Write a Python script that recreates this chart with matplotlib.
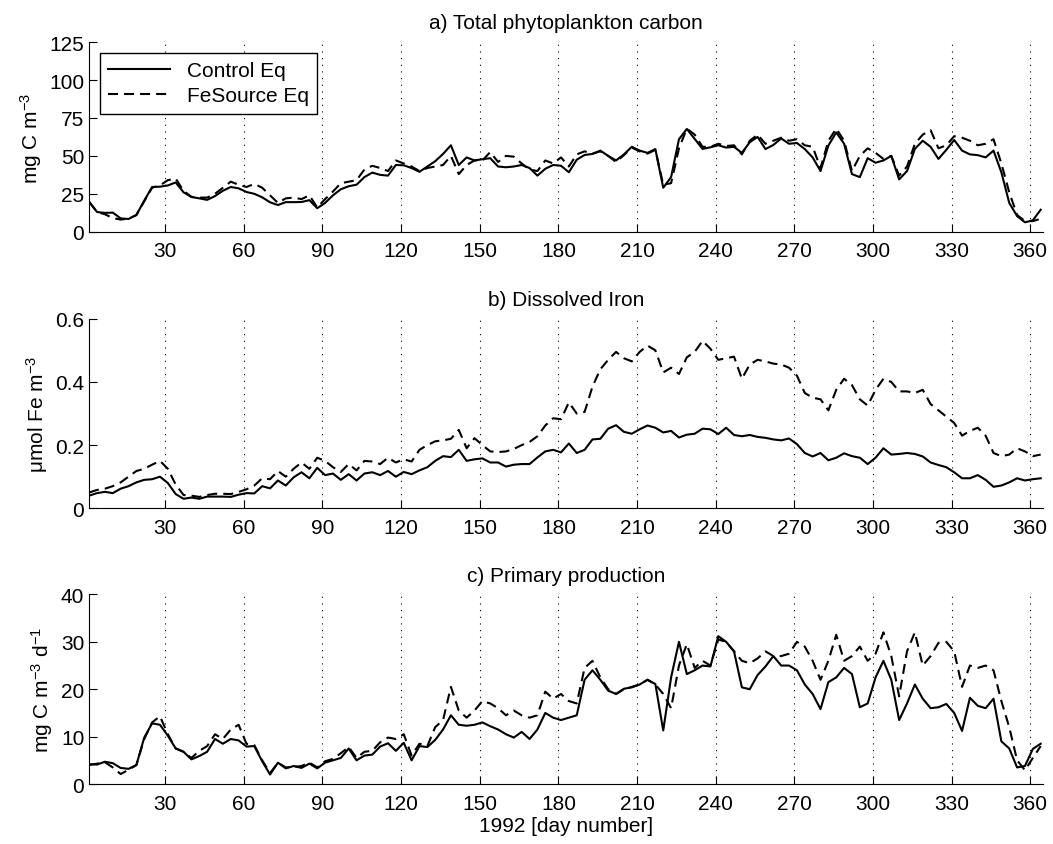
import numpy as np
import matplotlib
matplotlib.use('Agg')
import matplotlib.pyplot as plt

plt.rcParams['font.family'] = ['Liberation Sans', 'DejaVu Sans']
plt.rcParams['mathtext.default'] = 'regular'
plt.rcParams['font.size'] = 15

# day numbers, every third day of 1992
days = np.arange(1, 366, 3)

# a) total phytoplankton carbon, mg C m-3
carbon_control = [
    19.8, 13.0, 12.4, 12.6, 8.8, 8.4, 11.0, 20.5, 29.5, 29.7,
    30.5, 32.5, 26.0, 22.9, 22.0, 21.0, 23.5, 27.0, 29.5, 28.6,
    26.2, 25.0, 22.7, 19.4, 17.6, 19.5, 19.5, 19.6, 20.8, 15.5,
    19.0, 24.0, 28.0, 30.0, 31.0, 36.0, 39.0, 37.5, 37.0, 44.0,
    43.8, 42.0, 39.5, 43.0, 46.5, 51.3, 57.0, 44.0, 49.0, 47.0,
    47.8, 48.5, 43.0, 42.5, 43.0, 44.0, 42.0, 37.0, 41.5, 44.0,
    43.5, 39.2, 47.5, 50.6, 51.3, 53.5, 50.0, 47.0, 51.0, 56.0,
    53.5, 52.0, 54.5, 29.0, 36.0, 61.0, 67.8, 61.2, 54.6, 55.7,
    57.0, 55.5, 56.0, 52.0, 59.0, 62.5, 54.5, 57.2, 61.5, 58.0,
    58.5, 54.5, 49.0, 40.0, 56.8, 65.5, 58.0, 38.0, 36.0, 48.5,
    45.5, 47.0, 50.0, 34.5, 40.0, 54.6, 60.0, 56.0, 48.0, 54.0,
    60.5, 53.5, 51.0, 50.5, 49.0, 53.5, 39.2, 19.0, 10.3, 6.2,
    7.5, 14.5]
carbon_fesource = [
    19.5, 13.0, 11.5, 9.0, 8.0, 8.6, 11.0, 20.0, 29.0, 30.5,
    34.0, 35.0, 27.0, 23.0, 22.5, 22.5, 25.0, 29.0, 33.0, 31.0,
    29.5, 31.5, 29.0, 24.0, 19.0, 22.0, 22.5, 21.5, 24.0, 16.0,
    21.5, 26.5, 32.0, 33.0, 34.0, 41.0, 43.5, 42.0, 40.0, 47.0,
    45.0, 43.0, 40.0, 42.0, 43.0, 44.0, 50.0, 38.0, 44.0, 47.0,
    47.0, 52.5, 46.0, 50.0, 49.5, 45.0, 41.0, 40.0, 47.0, 45.0,
    49.0, 43.0, 51.0, 53.0, 51.5, 53.0, 50.0, 46.0, 50.5, 55.5,
    53.0, 51.5, 54.0, 31.0, 32.0, 55.0, 68.0, 64.0, 56.0, 56.0,
    58.0, 56.5, 57.0, 51.0, 60.0, 64.0, 58.0, 60.0, 62.0, 60.0,
    61.0, 57.0, 56.0, 42.0, 60.0, 68.0, 60.0, 40.0, 50.0, 55.0,
    52.0, 48.0, 50.0, 37.0, 43.0, 58.0, 64.0, 67.0, 55.0, 57.0,
    63.0, 62.0, 60.0, 57.0, 58.0, 61.0, 45.0, 26.0, 11.0, 7.0,
    7.0, 8.5]

# b) dissolved iron, umol Fe m-3
iron_control = [
    0.040, 0.048, 0.052, 0.048, 0.062, 0.070, 0.082, 0.090, 0.092, 0.100,
    0.080, 0.045, 0.030, 0.034, 0.030, 0.037, 0.037, 0.037, 0.036, 0.043,
    0.048, 0.047, 0.070, 0.063, 0.088, 0.072, 0.098, 0.114, 0.095, 0.128,
    0.105, 0.110, 0.090, 0.108, 0.088, 0.110, 0.114, 0.105, 0.118, 0.100,
    0.115, 0.108, 0.120, 0.130, 0.150, 0.165, 0.162, 0.185, 0.150, 0.155,
    0.158, 0.145, 0.145, 0.132, 0.138, 0.140, 0.140, 0.161, 0.180, 0.185,
    0.177, 0.205, 0.175, 0.185, 0.218, 0.220, 0.252, 0.263, 0.242, 0.236,
    0.250, 0.262, 0.255, 0.240, 0.245, 0.224, 0.233, 0.236, 0.252, 0.250,
    0.235, 0.255, 0.232, 0.228, 0.232, 0.226, 0.223, 0.218, 0.215, 0.221,
    0.203, 0.175, 0.164, 0.175, 0.152, 0.160, 0.174, 0.165, 0.160, 0.140,
    0.160, 0.190, 0.170, 0.172, 0.175, 0.172, 0.164, 0.145, 0.137, 0.130,
    0.114, 0.095, 0.095, 0.105, 0.090, 0.068, 0.072, 0.082, 0.095, 0.088,
    0.092, 0.095]
iron_fesource = [
    0.050, 0.058, 0.062, 0.070, 0.082, 0.100, 0.118, 0.125, 0.138, 0.150,
    0.125, 0.075, 0.042, 0.040, 0.036, 0.042, 0.046, 0.046, 0.045, 0.052,
    0.060, 0.072, 0.095, 0.092, 0.118, 0.100, 0.125, 0.145, 0.125, 0.160,
    0.150, 0.130, 0.115, 0.140, 0.120, 0.150, 0.148, 0.140, 0.160, 0.145,
    0.155, 0.148, 0.185, 0.200, 0.212, 0.215, 0.220, 0.248, 0.190, 0.222,
    0.200, 0.180, 0.178, 0.180, 0.188, 0.200, 0.210, 0.228, 0.262, 0.285,
    0.282, 0.335, 0.300, 0.305, 0.385, 0.440, 0.470, 0.495, 0.475, 0.465,
    0.495, 0.515, 0.500, 0.430, 0.445, 0.425, 0.478, 0.495, 0.530, 0.505,
    0.470, 0.475, 0.480, 0.410, 0.455, 0.470, 0.465, 0.458, 0.455, 0.445,
    0.420, 0.365, 0.350, 0.345, 0.310, 0.375, 0.410, 0.390, 0.345, 0.325,
    0.375, 0.410, 0.400, 0.370, 0.370, 0.365, 0.375, 0.330, 0.310, 0.290,
    0.270, 0.230, 0.245, 0.255, 0.230, 0.175, 0.165, 0.170, 0.190, 0.180,
    0.165, 0.170]

# c) primary production, mg C m-3 d-1
pp_control = [
    4.2, 4.1, 4.7, 4.4, 3.4, 3.2, 4.0, 9.8, 12.8, 12.5,
    10.2, 7.5, 6.8, 5.2, 5.9, 6.8, 9.5, 8.5, 9.5, 9.2,
    7.9, 8.0, 4.8, 2.0, 4.5, 3.3, 3.8, 3.4, 4.3, 3.3,
    4.5, 5.0, 5.5, 7.5, 5.0, 6.0, 6.2, 7.9, 8.6, 7.0,
    8.7, 5.0, 8.0, 7.8, 9.3, 11.5, 14.5, 12.5, 12.3, 12.5,
    13.0, 12.2, 11.5, 10.5, 9.8, 11.0, 9.5, 11.5, 15.0, 14.0,
    13.5, 14.0, 14.5, 22.0, 24.0, 22.0, 19.7, 19.0, 20.1, 20.4,
    21.0, 22.0, 21.1, 11.3, 22.5, 30.0, 23.2, 24.0, 25.0, 24.8,
    31.2, 30.0, 28.0, 20.4, 20.0, 23.0, 24.8, 27.0, 25.0, 25.0,
    24.0, 21.0, 19.0, 15.8, 21.5, 22.5, 24.5, 23.2, 16.2, 17.0,
    22.5, 26.0, 22.0, 13.5, 17.0, 21.0, 18.0, 16.0, 16.2, 16.9,
    15.0, 11.2, 18.2, 16.5, 16.0, 18.0, 9.0, 7.5, 3.5, 3.8,
    7.4, 8.5]
pp_fesource = [
    4.0, 4.3, 4.6, 3.5, 2.1, 3.0, 4.0, 9.5, 13.0, 14.3,
    10.5, 7.5, 6.8, 5.5, 7.0, 8.0, 10.5, 9.5, 11.5, 12.5,
    8.5, 8.2, 5.0, 2.3, 4.5, 3.5, 3.6, 3.8, 4.5, 3.5,
    4.8, 5.3, 6.5, 7.8, 5.5, 6.8, 7.0, 8.8, 9.8, 9.5,
    10.5, 6.0, 8.5, 8.0, 12.0, 13.5, 20.5, 15.5, 14.0, 15.5,
    17.5, 17.0, 16.0, 14.5, 15.5, 14.5, 14.0, 14.5, 19.5, 18.0,
    19.0, 17.5, 17.0, 24.5, 26.0, 22.5, 20.0, 19.0, 20.0, 20.5,
    21.0, 22.0, 21.0, 19.0, 16.0, 25.0, 29.5, 24.5, 26.0, 25.0,
    30.5, 30.0, 28.0, 26.0, 25.5, 26.5, 28.0, 27.0, 27.0, 27.5,
    30.0, 29.0, 26.0, 22.0, 26.0, 31.5, 26.0, 27.0, 29.0, 26.0,
    27.5, 32.0, 27.0, 18.5, 28.0, 32.0, 25.0, 27.0, 29.8, 30.0,
    28.0, 20.5, 25.0, 24.5, 25.0, 24.0, 17.5, 12.0, 5.0, 2.9,
    5.5, 8.0]

panels = [
    ('a) Total phytoplankton carbon', r'mg C m$^{-3}$', carbon_control, carbon_fesource,
     [0, 25, 50, 75, 100, 125], ['0', '25', '50', '75', '100', '125']),
    ('b) Dissolved Iron', r'$\mu$mol Fe m$^{-3}$', iron_control, iron_fesource,
     [0, 0.2, 0.4, 0.6], ['0', '0.2', '0.4', '0.6']),
    ('c) Primary production', r'mg C m$^{-3}$ d$^{-1}$', pp_control, pp_fesource,
     [0, 10, 20, 30, 40], ['0', '10', '20', '30', '40']),
]
xticks = np.arange(30, 361, 30)

fig = plt.figure(figsize=(10.53, 8.45), dpi=100)
bottoms = [0.7246, 0.3973, 0.0710]

for i, (title, ylab, ctrl, fes, yt, ytl) in enumerate(panels):
    ax = fig.add_axes([0.0847, bottoms[i], 0.9061, 0.2243])
    ax.plot(days, ctrl, color='k', lw=1.5, label='Control Eq')
    ax.plot(days, fes, color='k', lw=1.5, linestyle=(0, (4.8, 2.9)), label='FeSource Eq')
    ax.set_xlim(1, 365)
    ax.set_ylim(yt[0], yt[-1])
    ax.set_yticks(yt)
    ax.set_yticklabels(ytl)
    ax.set_xticks(xticks)
    ax.xaxis.grid(True, color='k', linestyle=(0, (1, 5)), lw=0.8)
    ax.spines['top'].set_visible(False)
    ax.spines['right'].set_visible(False)
    ax.tick_params(direction='in', length=6, width=0.8, labelsize=15)
    ax.tick_params(axis='x', pad=7)
    ax.set_title(title, fontsize=15, pad=10)
    ax.set_ylabel(ylab, fontsize=15)
    if i == 0:
        leg = ax.legend(loc='upper left', bbox_to_anchor=(0.0, 1.0), fancybox=False,
                        edgecolor='k', framealpha=1, fontsize=15, handlelength=3.0,
                        borderaxespad=0.5, labelspacing=0.3, borderpad=0.4)
        leg.get_frame().set_linewidth(1.0)
    if i == 2:
        ax.set_xlabel('1992 [day number]', fontsize=15, labelpad=2)

plt.savefig('out.png', dpi=100)
